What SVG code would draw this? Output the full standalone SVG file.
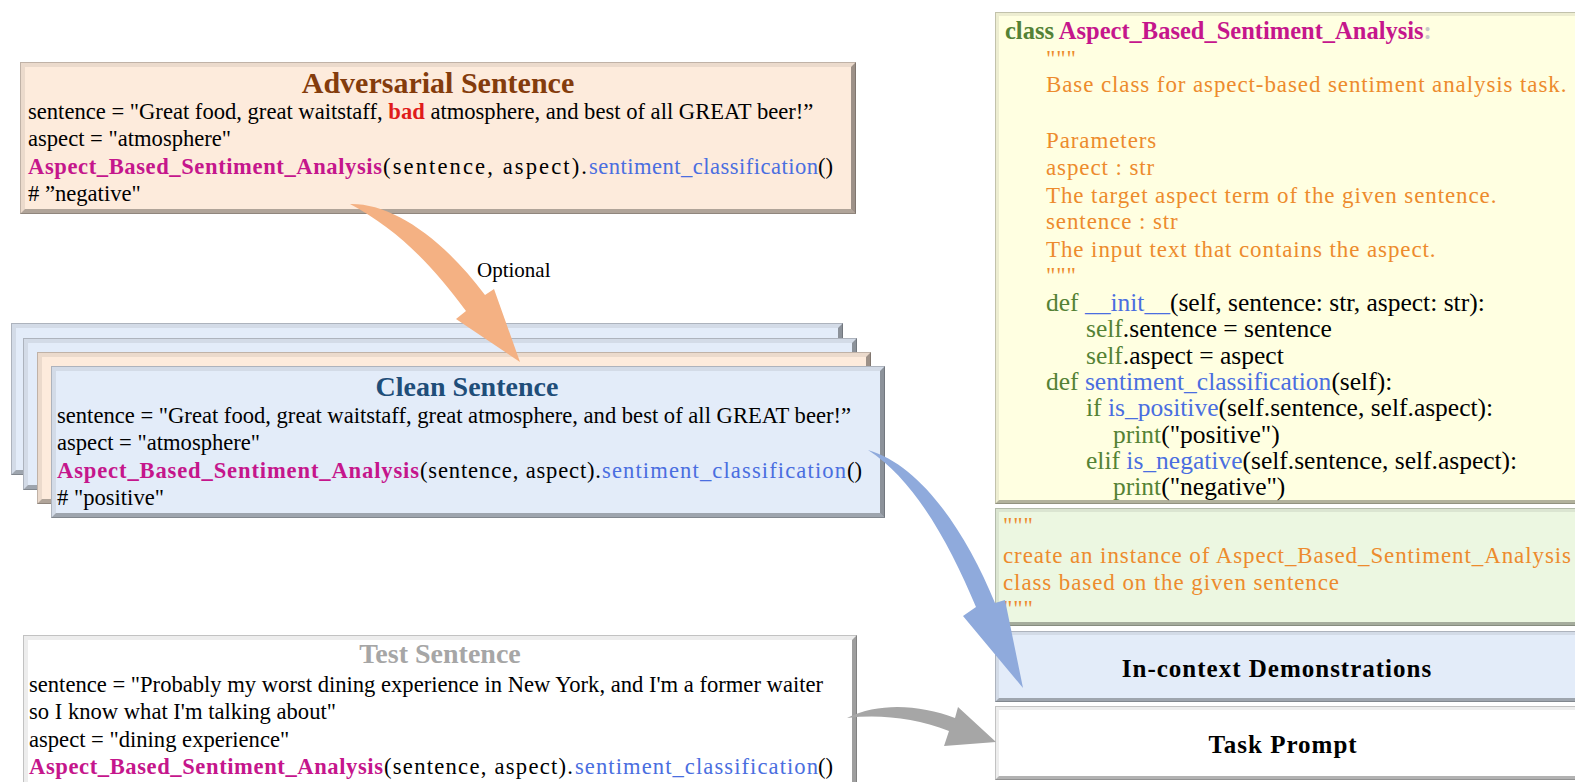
<svg xmlns="http://www.w3.org/2000/svg" width="1575" height="782" viewBox="0 0 1575 782">
<defs>
<style>
text{font-family:"Liberation Serif","Times New Roman",serif;fill:#000}
.t{font-size:22.6px}
.h{font-size:28px;font-weight:bold;text-anchor:middle}
.p{fill:#c5168c;font-weight:bold}
.bl{fill:#4a6ee0}
.c{font-size:25.5px}
.g{fill:#548235}
.o{fill:#ed8b2d;font-size:23px;letter-spacing:0.9px}
.lab{font-size:25px;font-weight:bold;letter-spacing:1px;text-anchor:middle}
.bt{fill:#000;fill-opacity:0.07}
.br{fill:#000;fill-opacity:0.38}
.bb{fill:#000;fill-opacity:0.3}
.bo{fill:none;stroke:#000;stroke-opacity:0.18;stroke-width:1}
.peach{fill:#fdebdc}
.lblue{fill:#e3ecf9}
</style>
</defs>
<rect width="1575" height="782" fill="#fff"/>

<g id="adversarial">
<rect class="peach" x="20" y="62" width="836" height="152"/>
<polygon class="bt" points="20,62 856,62 851,67 25,67"/>
<polygon class="bt" points="20,62 25,67 25,209 20,214"/>
<polygon class="br" points="856,62 856,214 851,209 851,67"/>
<polygon class="bb" points="20,214 856,214 851,209 25,209"/>
<rect class="bo" x="20.5" y="62.5" width="835" height="151"/>
<text class="h" x="438" y="93" style="fill:#843c0c;font-size:30px">Adversarial Sentence</text>
<text class="t" x="28" y="119">sentence = "Great food, great waitstaff, <tspan fill="#e01b1b" font-weight="bold">bad</tspan> atmosphere, and best of all GREAT beer!”</text>
<text class="t" x="28" y="146">aspect = "atmosphere"</text>
<text class="t p" x="28" y="174" textLength="354" lengthAdjust="spacing">Aspect_Based_Sentiment_Analysis</text>
<text class="t" x="383" y="174" textLength="204" lengthAdjust="spacing">(sentence, aspect).</text>
<text class="t bl" x="589" y="174" textLength="229" lengthAdjust="spacing">sentiment_classification</text>
<text class="t" x="818" y="174">()</text>
<text class="t" x="28" y="201"># ”negative"</text>
</g>

<g id="clean-stack">
<g id="layer1">
<rect class="lblue" x="11" y="323" width="832" height="152"/>
<polygon class="bt" points="11,323 843,323 838,328 16,328"/>
<polygon class="bt" points="11,323 16,328 16,470 11,475"/>
<polygon class="br" points="843,323 843,475 838,470 838,328"/>
<polygon class="bb" points="11,475 843,475 838,470 16,470"/>
<rect class="bo" x="11.5" y="323.5" width="831" height="151"/>
</g>
<g id="layer2">
<rect class="lblue" x="23" y="338" width="834" height="152"/>
<polygon class="bt" points="23,338 857,338 852,343 28,343"/>
<polygon class="bt" points="23,338 28,343 28,485 23,490"/>
<polygon class="br" points="857,338 857,490 852,485 852,343"/>
<polygon class="bb" points="23,490 857,490 852,485 28,485"/>
<rect class="bo" x="23.5" y="338.5" width="833" height="151"/>
</g>
<g id="layer3">
<rect class="peach" x="37" y="352" width="834" height="152"/>
<polygon class="bt" points="37,352 871,352 866,357 42,357"/>
<polygon class="bt" points="37,352 42,357 42,499 37,504"/>
<polygon class="br" points="871,352 871,504 866,499 866,357"/>
<polygon class="bb" points="37,504 871,504 866,499 42,499"/>
<rect class="bo" x="37.5" y="352.5" width="833" height="151"/>
</g>
</g>

<g id="clean">
<rect class="lblue" x="51" y="366" width="834" height="152"/>
<polygon class="bt" points="51,366 885,366 880,371 56,371"/>
<polygon class="bt" points="51,366 56,371 56,513 51,518"/>
<polygon class="br" points="885,366 885,518 880,513 880,371"/>
<polygon class="bb" points="51,518 885,518 880,513 56,513"/>
<rect class="bo" x="51.5" y="366.5" width="833" height="151"/>
<text class="h" x="467" y="396" style="fill:#1f4e79">Clean Sentence</text>
<text class="t" x="57" y="423">sentence = "Great food, great waitstaff, great atmosphere, and best of all GREAT beer!”</text>
<text class="t" x="57" y="450">aspect = "atmosphere"</text>
<text class="t p" x="57" y="478" textLength="362" lengthAdjust="spacing">Aspect_Based_Sentiment_Analysis</text>
<text class="t" x="420" y="478" textLength="181" lengthAdjust="spacing">(sentence, aspect).</text>
<text class="t bl" x="602" y="478" textLength="244" lengthAdjust="spacing">sentiment_classification</text>
<text class="t" x="847" y="478">()</text>
<text class="t" x="57" y="505"># "positive"</text>
</g>

<g id="test">
<rect fill="#fff" x="23" y="635" width="834" height="160"/>
<polygon class="bt" points="23,635 857,635 852,640 28,640"/>
<polygon class="bt" points="23,635 28,640 28,795 23,795"/>
<polygon class="br" points="857,635 857,795 852,795 852,640"/>
<rect class="bo" x="23.5" y="635.5" width="833" height="160"/>
<text class="h" x="440" y="663" style="fill:#a6a6a6">Test Sentence</text>
<text class="t" x="29" y="692">sentence = "Probably my worst dining experience in New York, and I'm a former waiter</text>
<text class="t" x="29" y="719">so I know what I'm talking about"</text>
<text class="t" x="29" y="747">aspect = "dining experience"</text>
<text class="t p" x="29" y="774" textLength="354" lengthAdjust="spacing">Aspect_Based_Sentiment_Analysis</text>
<text class="t" x="384" y="774" textLength="189" lengthAdjust="spacing">(sentence, aspect).</text>
<text class="t bl" x="575" y="774" textLength="243" lengthAdjust="spacing">sentiment_classification</text>
<text class="t" x="818" y="774">()</text>
</g>

<g id="optional-label">
<text x="477" y="277" font-size="21">Optional</text>
</g>

<g id="code-class">
<rect fill="#ffffe1" x="995" y="12" width="620" height="492"/>
<polygon class="bt" points="995,12 1615,12 1615,16 999,16"/>
<polygon class="bt" points="995,12 999,16 999,500 995,504"/>
<polygon class="bb" points="995,504 1615,504 1615,500 999,500"/>
<rect class="bo" x="995.5" y="12.5" width="620" height="491"/>
<text x="1005" y="39" font-size="24.5" font-weight="bold"><tspan class="g">class </tspan><tspan class="p">Aspect_Based_Sentiment_Analysis</tspan><tspan fill="#c8c8c8">:</tspan></text>
<text class="o" x="1046" y="66">"""</text>
<text class="o" x="1046" y="92">Base class for aspect-based sentiment analysis task.</text>
<text class="o" x="1046" y="148">Parameters</text>
<text class="o" x="1046" y="175">aspect : str</text>
<text class="o" x="1046" y="203">The target aspect term of the given sentence.</text>
<text class="o" x="1046" y="229">sentence : str</text>
<text class="o" x="1046" y="257">The input text that contains the aspect.</text>
<text class="o" x="1046" y="283">"""</text>
<text class="c" x="1046" y="311"><tspan class="g">def </tspan><tspan class="bl">__init__</tspan>(self, sentence: str, aspect: str):</text>
<text class="c" x="1086" y="337"><tspan class="g">self</tspan>.sentence = sentence</text>
<text class="c" x="1086" y="364"><tspan class="g">self</tspan>.aspect = aspect</text>
<text class="c" x="1046" y="390"><tspan class="g">def </tspan><tspan class="bl">sentiment_classification</tspan>(self):</text>
<text class="c" x="1086" y="416"><tspan class="g">if </tspan><tspan class="bl">is_positive</tspan>(self.sentence, self.aspect):</text>
<text class="c" x="1113" y="443"><tspan class="g">print</tspan>("positive")</text>
<text class="c" x="1086" y="469"><tspan class="g">elif </tspan><tspan class="bl">is_negative</tspan>(self.sentence, self.aspect):</text>
<text class="c" x="1113" y="495"><tspan class="g">print</tspan>("negative")</text>
</g>

<g id="code-instance">
<rect fill="#ecf7e1" x="995" y="508" width="620" height="118"/>
<polygon class="bt" points="995,508 1615,508 1615,512 999,512"/>
<polygon class="bt" points="995,508 999,512 999,622 995,626"/>
<polygon class="bb" points="995,626 1615,626 1615,622 999,622"/>
<rect class="bo" x="995.5" y="508.5" width="620" height="117"/>
<text class="o" x="1003" y="533">"""</text>
<text class="o" x="1003" y="563">create an instance of Aspect_Based_Sentiment_Analysis</text>
<text class="o" x="1003" y="590">class based on the given sentence</text>
<text class="o" x="1003" y="616">"""</text>
</g>

<g id="in-context">
<rect class="lblue" x="995" y="631" width="620" height="71"/>
<polygon class="bt" points="995,631 1615,631 1615,635 999,635"/>
<polygon class="bt" points="995,631 999,635 999,698 995,702"/>
<polygon class="bb" points="995,702 1615,702 1615,698 999,698"/>
<rect class="bo" x="995.5" y="631.5" width="620" height="70"/>
<text class="lab" x="1277" y="677">In-context Demonstrations</text>
</g>

<g id="task-prompt">
<rect fill="#fff" x="995" y="706" width="620" height="74"/>
<polygon class="bt" points="995,706 1615,706 1615,710 999,710"/>
<polygon class="bt" points="995,706 999,710 999,776 995,780"/>
<polygon class="bb" points="995,780 1615,780 1615,776 999,776"/>
<rect class="bo" x="995.5" y="706.5" width="620" height="73"/>
<text class="lab" x="1283" y="753">Task Prompt</text>
</g>

<g id="connectors">
<path fill="#f4b183" d="M350,204 C390,203 440,235 485,295 L494,289 L520,362 L456,319 L466,311 C430,262 395,228 350,204 Z"/>
<path fill="#8faadc" d="M868,450 C920,465 965,530 995,603 L1005,600 L1023,688 L963,616 L976,607 C950,545 915,480 868,450 Z"/>
<path fill="#a6a6a6" d="M847,718 C880,702 920,705 955,718 L958,707 L996,742 L944,746 L949,731 C915,718 880,714 847,718 Z"/>
</g>
</svg>
